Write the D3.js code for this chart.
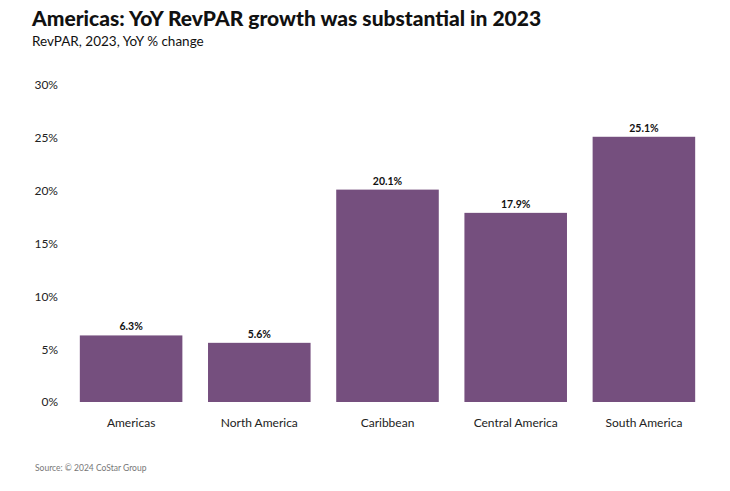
<!DOCTYPE html>
<html><head><meta charset="utf-8">
<script src="https://cdn.jsdelivr.net/npm/d3@7"></script>
<style>body{margin:0;background:#fff;} svg{display:block;}</style>
</head><body>
<svg id="c" width="730" height="491"></svg>
<script>
const categories = ["Americas", "North America", "Caribbean", "Central America", "South America"];
const values = [6.3, 5.6, 20.1, 17.9, 25.1];
const yTicks = [0, 5, 10, 15, 20, 25, 30];

const svg = d3.select("#c");
const font = "Lato, 'Open Sans', sans-serif";

svg.append("text").attr("x", 32).attr("y", 26)
  .attr("font-family", font).attr("font-weight", 900).attr("font-size", 21)
  .attr("fill", "#111").text("Americas: YoY RevPAR growth was substantial in 2023");
svg.append("text").attr("x", 32).attr("y", 46)
  .attr("font-family", font).attr("font-size", 13.5)
  .attr("fill", "#111").text("RevPAR, 2023, YoY % change");

const x = d3.scaleBand().domain(categories).range([67, 708]).paddingInner(0.2).paddingOuter(0.1);
const y = d3.scaleLinear().domain([0, 30]).range([402, 85]);

const yAxis = svg.append("g").attr("transform", "translate(58,0)")
  .call(d3.axisLeft(y).tickValues(yTicks).tickFormat(d => d + "%").tickSize(0).tickPadding(0));
yAxis.select(".domain").remove();
yAxis.selectAll("text").attr("font-family", font).attr("font-size", 12).attr("fill", "#222");

svg.selectAll("rect.bar").data(values).join("rect").attr("class", "bar")
  .attr("x", (d, i) => x(categories[i])).attr("width", x.bandwidth())
  .attr("y", d => y(d)).attr("height", d => y(0) - y(d))
  .attr("fill", "#754f7e");

svg.selectAll("text.val").data(values).join("text").attr("class", "val")
  .attr("x", (d, i) => x(categories[i]) + x.bandwidth() / 2).attr("y", d => y(d) - 5)
  .attr("text-anchor", "middle").attr("font-family", font).attr("font-weight", 700)
  .attr("font-size", 10.5).attr("fill", "#111").text(d => d.toFixed(1) + "%");

const xAxis = svg.append("g").attr("transform", "translate(0,402)")
  .call(d3.axisBottom(x).tickSize(0).tickPadding(16));
xAxis.select(".domain").remove();
xAxis.selectAll("text").attr("font-family", font).attr("font-size", 12).attr("fill", "#222");

svg.append("text").attr("x", 35).attr("y", 471)
  .attr("font-family", font).attr("font-size", 8.5).attr("fill", "#777")
  .text("Source: © 2024 CoStar Group");
</script>
</body></html>
